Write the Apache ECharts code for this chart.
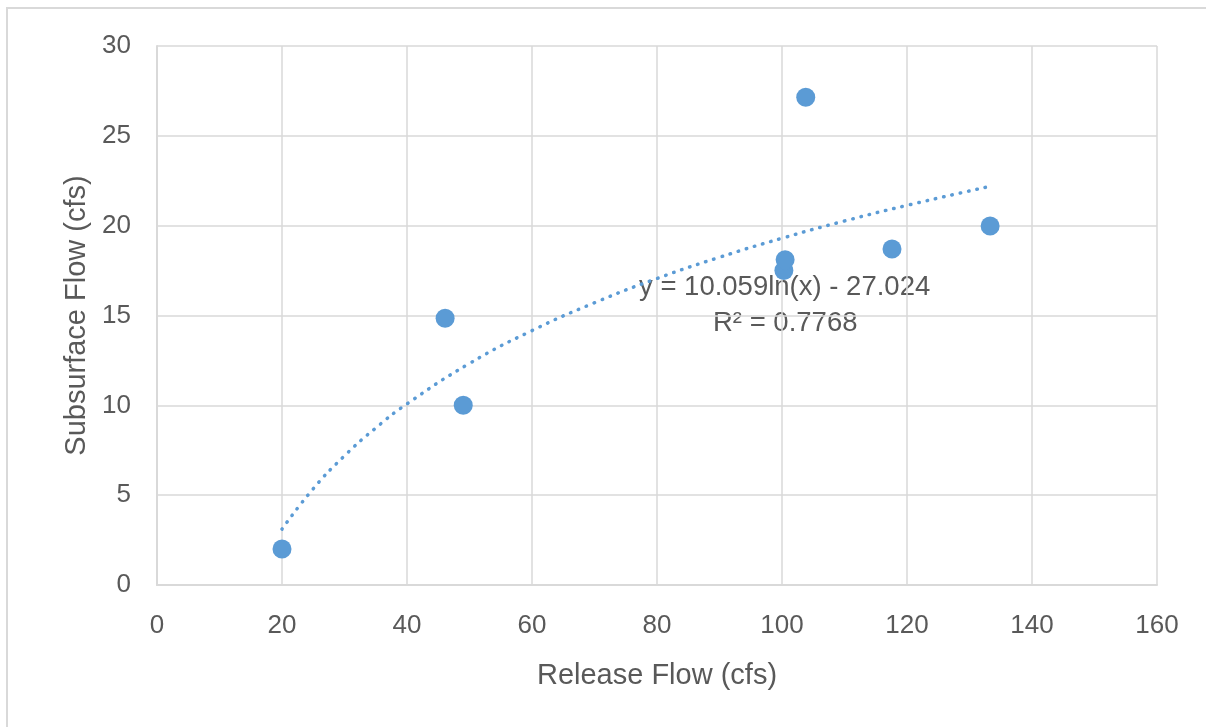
<!DOCTYPE html>
<html>
<head>
<meta charset="utf-8">
<script src="https://cdn.jsdelivr.net/npm/echarts@6/dist/echarts.min.js"></script>
<style>
  html, body { margin: 0; padding: 0; background: #fff; }
  #frame {
    position: absolute; left: 6px; top: 7px; width: 1220px; height: 740px;
    border: 2px solid #d9d9d9; box-sizing: border-box;
  }
  #chart { position: absolute; left: 0; top: 0; width: 1206px; height: 727px; }
</style>
</head>
<body>
<div id="frame"></div>
<div id="chart"></div>
<script>
// measured points: release flow (x) vs subsurface flow (y)
const releaseFlow = [20.0, 46.1, 49.0, 100.3, 100.5, 103.8, 117.6, 133.3]
const subsurfaceFlow = [2.0, 14.85, 10.0, 17.5, 18.1, 27.15, 18.7, 19.98]

// log trendline
const trendX = [20, 25, 30, 35, 40, 50, 60, 70, 80, 90, 100, 110, 120, 133.3]
const trendY = [3.11, 5.36, 7.19, 8.74, 10.08, 12.33, 14.16, 15.71, 17.06, 18.24, 19.30, 20.26, 21.13, 22.19]

const xTicks = { min: 0, max: 160, interval: 20 }
const yTicks = { min: 0, max: 30, interval: 5 }

const trendText = ['y = 10.059ln(x) - 27.024', 'R² = 0.7768']

const font = 'Liberation Sans, Arial, sans-serif'
const gray = '#595959'
const blue = '#5b9bd5'

const chart = echarts.init(document.getElementById('chart'), null, { renderer: 'canvas' })

chart.setOption({
  animation: false,
  grid: { left: 157, right: 49, top: 46, bottom: 142 },
  xAxis: {
    type: 'value',
    min: xTicks.min, max: xTicks.max, interval: xTicks.interval,
    name: 'Release Flow (cfs)',
    nameLocation: 'middle',
    nameGap: 76,
    nameTextStyle: { color: gray, fontSize: 29, fontFamily: font },
    axisLine: { lineStyle: { color: '#d9d9d9', width: 2 } },
    axisTick: { show: false },
    axisLabel: { color: gray, fontSize: 26, fontFamily: font, margin: 28 },
    splitLine: { lineStyle: { color: '#d9d9d9', width: 1.5 } }
  },
  yAxis: {
    type: 'value',
    min: yTicks.min, max: yTicks.max, interval: yTicks.interval,
    name: 'Subsurface Flow (cfs)',
    nameLocation: 'middle',
    nameGap: 60,
    nameTextStyle: { color: gray, fontSize: 29, fontFamily: font },
    axisLine: { show: true, lineStyle: { color: '#d9d9d9', width: 2 } },
    axisTick: { show: false },
    axisLabel: { color: gray, fontSize: 26, fontFamily: font, margin: 26 },
    splitLine: { lineStyle: { color: '#d9d9d9', width: 1.5 } }
  },
  series: [
    {
      name: 'Trend',
      type: 'line',
      data: trendX.map((x, i) => [x, trendY[i]]),
      smooth: true,
      showSymbol: false,
      lineStyle: { color: blue, width: 3.5, type: [0.5, 8], cap: 'round' },
      z: 2
    },
    {
      name: 'Flow',
      type: 'scatter',
      data: releaseFlow.map((x, i) => [x, subsurfaceFlow[i]]),
      symbolSize: 19,
      itemStyle: { color: blue, opacity: 1 },
      z: 3
    }
  ],
  graphic: [
    {
      type: 'text', left: 639, top: 273,
      style: { text: trendText[0], fill: gray, fontSize: 27.5, fontFamily: font }
    },
    {
      type: 'text', left: 713, top: 309,
      style: { text: trendText[1], fill: gray, fontSize: 27.5, fontFamily: font }
    }
  ]
})
</script>
</body>
</html>
